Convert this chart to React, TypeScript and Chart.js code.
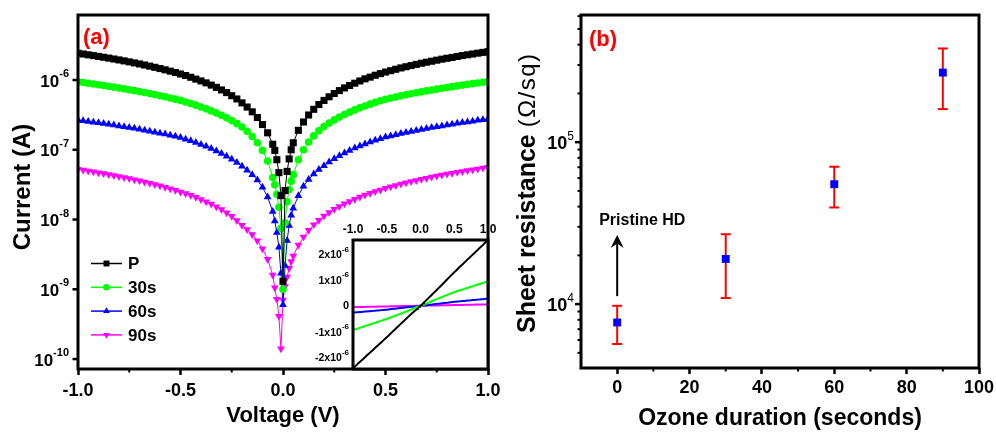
import React, { useEffect, useRef } from "react";
import { Chart, registerables } from "chart.js";

Chart.register(...registerables);

const FONT = "'Liberation Sans', Arial, Helvetica, sans-serif";
Chart.defaults.font.family = FONT;
Chart.defaults.color = "#000";

// ---------------- Panel (a) data: I-V curves (signed current, A) ----------------
const VOLTAGE = [
  -1, -0.975, -0.95, -0.925, -0.9, -0.875, -0.85, -0.825, -0.8, -0.775,
  -0.75, -0.725, -0.7, -0.675, -0.65, -0.625, -0.6, -0.575, -0.55, -0.525,
  -0.5, -0.475, -0.45, -0.425, -0.4, -0.375, -0.35, -0.325, -0.3, -0.275,
  -0.25, -0.225, -0.2, -0.175, -0.15, -0.125, -0.1, -0.075, -0.05,
  -0.04, -0.03, -0.02, -0.01, 0, 0.01, 0.02, 0.03, 0.04,
  0.05, 0.075, 0.1, 0.125, 0.15, 0.175, 0.2, 0.225, 0.25, 0.275,
  0.3, 0.325, 0.35, 0.375, 0.4, 0.425, 0.45, 0.475, 0.5, 0.525,
  0.55, 0.575, 0.6, 0.625, 0.65, 0.675, 0.7, 0.725, 0.75, 0.775,
  0.8, 0.825, 0.85, 0.875, 0.9, 0.925, 0.95, 0.975, 1,
];

const I_P = [
  -2.42e-6, -2.36e-6, -2.3e-6, -2.24e-6, -2.18e-6, -2.12e-6, -2.06e-6, -2.0e-6, -1.94e-6, -1.88e-6,
  -1.82e-6, -1.76e-6, -1.7e-6, -1.64e-6, -1.58e-6, -1.52e-6, -1.46e-6, -1.4e-6, -1.34e-6, -1.28e-6,
  -1.22e-6, -1.16e-6, -1.095e-6, -1.03e-6, -9.7e-7, -9.1e-7, -8.45e-7, -7.85e-7, -7.2e-7, -6.6e-7,
  -5.95e-7, -5.35e-7, -4.7e-7, -4.1e-7, -3.5e-7, -2.9e-7, -2.3e-7, -1.75e-7, -1.2e-7,
  -9.8e-8, -7.2e-8, -4.7e-8, -2.2e-8, -1.3e-9, 2.6e-8, 4.9e-8, 7.4e-8, 1.0e-7,
  1.26e-7, 1.9e-7, 2.5e-7, 3.15e-7, 3.8e-7, 4.45e-7, 5.1e-7, 5.75e-7, 6.4e-7, 7.05e-7,
  7.7e-7, 8.35e-7, 9.0e-7, 9.7e-7, 1.04e-6, 1.1e-6, 1.17e-6, 1.235e-6, 1.3e-6, 1.36e-6,
  1.425e-6, 1.49e-6, 1.55e-6, 1.61e-6, 1.675e-6, 1.74e-6, 1.8e-6, 1.86e-6, 1.925e-6, 1.99e-6,
  2.05e-6, 2.11e-6, 2.175e-6, 2.24e-6, 2.3e-6, 2.36e-6, 2.425e-6, 2.49e-6, 2.55e-6,
];

const I_30S = [
  -9.4e-7, -9.19e-7, -8.97e-7, -8.76e-7, -8.54e-7, -8.33e-7, -8.11e-7, -7.9e-7, -7.68e-7, -7.47e-7,
  -7.25e-7, -7.04e-7, -6.82e-7, -6.61e-7, -6.39e-7, -6.18e-7, -5.96e-7, -5.75e-7, -5.53e-7, -5.32e-7,
  -5.1e-7, -4.85e-7, -4.6e-7, -4.36e-7, -4.11e-7, -3.86e-7, -3.61e-7, -3.36e-7, -3.12e-7, -2.87e-7,
  -2.62e-7, -2.37e-7, -2.12e-7, -1.84e-7, -1.55e-7, -1.26e-7, -9.8e-8, -6.9e-8, -4.0e-8,
  -3.15e-8, -2.3e-8, -1.5e-8, -7.5e-9, -1.0e-9, 9.0e-9, 1.8e-8, 2.7e-8, 3.55e-8,
  4.4e-8, 7.2e-8, 1.0e-7, 1.29e-7, 1.58e-7, 1.87e-7, 2.15e-7, 2.41e-7, 2.68e-7, 2.94e-7,
  3.2e-7, 3.46e-7, 3.73e-7, 3.99e-7, 4.25e-7, 4.51e-7, 4.78e-7, 5.04e-7, 5.3e-7, 5.51e-7,
  5.72e-7, 5.93e-7, 6.14e-7, 6.35e-7, 6.56e-7, 6.77e-7, 6.98e-7, 7.19e-7, 7.4e-7, 7.61e-7,
  7.82e-7, 8.03e-7, 8.24e-7, 8.45e-7, 8.66e-7, 8.87e-7, 9.08e-7, 9.29e-7, 9.5e-7,
];

const I_60S = [
  -2.67e-7, -2.61e-7, -2.55e-7, -2.49e-7, -2.44e-7, -2.38e-7, -2.32e-7, -2.26e-7, -2.2e-7, -2.14e-7,
  -2.09e-7, -2.03e-7, -1.97e-7, -1.91e-7, -1.85e-7, -1.79e-7, -1.73e-7, -1.68e-7, -1.62e-7, -1.56e-7,
  -1.5e-7, -1.42e-7, -1.35e-7, -1.27e-7, -1.19e-7, -1.12e-7, -1.04e-7, -9.63e-8, -8.87e-8, -8.1e-8,
  -7.33e-8, -6.57e-8, -5.8e-8, -5.1e-8, -4.4e-8, -3.7e-8, -2.9e-8, -2.1e-8, -1.3e-8,
  -9.5e-9, -6.5e-9, -4.0e-9, -1.7e-9, -6.0e-10, 2.2e-9, 5.0e-9, 8.2e-9, 1.15e-8,
  1.45e-8, 2.2e-8, 3.0e-8, 3.75e-8, 4.5e-8, 5.2e-8, 5.9e-8, 6.68e-8, 7.45e-8, 8.23e-8,
  9.0e-8, 9.78e-8, 1.06e-7, 1.13e-7, 1.21e-7, 1.29e-7, 1.37e-7, 1.44e-7, 1.52e-7, 1.58e-7,
  1.64e-7, 1.71e-7, 1.77e-7, 1.83e-7, 1.89e-7, 1.95e-7, 2.02e-7, 2.08e-7, 2.14e-7, 2.2e-7,
  2.26e-7, 2.33e-7, 2.39e-7, 2.45e-7, 2.51e-7, 2.57e-7, 2.64e-7, 2.7e-7, 2.76e-7,
];

const I_90S = [
  -5.25e-8, -5.11e-8, -4.97e-8, -4.84e-8, -4.7e-8, -4.56e-8, -4.42e-8, -4.29e-8, -4.15e-8, -4.01e-8,
  -3.87e-8, -3.73e-8, -3.6e-8, -3.46e-8, -3.32e-8, -3.18e-8, -3.05e-8, -2.91e-8, -2.77e-8, -2.63e-8,
  -2.49e-8, -2.36e-8, -2.22e-8, -2.08e-8, -1.94e-8, -1.8e-8, -1.67e-8, -1.53e-8, -1.39e-8, -1.25e-8,
  -1.11e-8, -9.7e-9, -8.3e-9, -7.2e-9, -6.1e-9, -4.95e-9, -3.8e-9, -2.7e-9, -1.6e-9,
  -1.05e-9, -7.2e-10, -4.1e-10, -1.4e-10, 7.0e-10, 1.1e-9, 1.5e-9, 2.0e-9, 2.5e-9,
  3.0e-9, 4.3e-9, 5.6e-9, 7.0e-9, 8.4e-9, 9.8e-9, 1.12e-8, 1.26e-8, 1.4e-8, 1.54e-8,
  1.68e-8, 1.82e-8, 1.96e-8, 2.1e-8, 2.24e-8, 2.38e-8, 2.52e-8, 2.66e-8, 2.8e-8, 2.94e-8,
  3.08e-8, 3.22e-8, 3.36e-8, 3.5e-8, 3.64e-8, 3.78e-8, 3.92e-8, 4.06e-8, 4.2e-8, 4.34e-8,
  4.48e-8, 4.62e-8, 4.76e-8, 4.9e-8, 5.04e-8, 5.18e-8, 5.32e-8, 5.46e-8, 5.6e-8,
];

const SERIES_NAMES = ["P", "30s", "60s", "90s"];
const XA_TICKS = [-1, -0.5, 0, 0.5, 1];
const XA_MINOR = [-0.75, -0.25, 0.25, 0.75];
const YA_EXPONENTS = [-10, -9, -8, -7, -6];
const YA_MIN = 7.2e-11;
const YA_MAX = 8.55e-6;
const INSET_X_TICKS = [-1, -0.5, 0, 0.5, 1];
const INSET_Y_TICKS = [2e-6, 1e-6, 0, -1e-6, -2e-6];
const INSET_Y_EXP = -6;
const INSET_Y_MIN = -2.45e-6;
const INSET_Y_MAX = 2.55e-6;

// ---------------- Panel (b) data: sheet resistance ----------------
const OZONE_S = [0, 30, 60, 90];
const R_SHEET = [7.7e3, 1.9e4, 5.5e4, 2.69e5];
const R_ERR_HI = [9.76e3, 2.7e4, 7.05e4, 3.79e5];
const R_ERR_LO = [5.67e3, 1.09e4, 3.95e4, 1.6e5];
const XB_TICKS = [0, 20, 40, 60, 80, 100];
const XB_MINOR = [10, 30, 50, 70, 90];
const YB_EXPONENTS = [4, 5];
const YB_MIN = 4030;
const YB_MAX = 6.1e5;
const ARROW_X = 0;
const ARROW_FROM = 1.12e4;
const ARROW_TO = 2.67e4;
const ANNOT_TEXT = "Pristine HD";

// ---------------- styles ----------------
const STYLE_A = [
  { color: "#000000", pointStyle: "rect", radius: 5.0, rotation: 0 },
  { color: "#00ff00", pointStyle: "circle", radius: 3.8, rotation: 0 },
  { color: "#0000ff", pointStyle: "triangle", radius: 4.5, rotation: 0 },
  { color: "#ff00ff", pointStyle: "triangle", radius: 4.5, rotation: 180 },
];
const LEGEND_RADIUS = [4.2, 3.3, 3.9, 3.9];
const SERIES_A = [I_P, I_30S, I_60S, I_90S];

function seg(ctx: any, x1: number, y1: number, x2: number, y2: number) {
  ctx.beginPath();
  ctx.moveTo(x1, y1);
  ctx.lineTo(x2, y2);
  ctx.stroke();
}

function supLabel(ctx: any, xRight: number, y: number, base: string, sup: string,
  baseFont: string, supFont: string, baseDy: number, supDy: number) {
  ctx.textAlign = "right";
  ctx.textBaseline = "alphabetic";
  ctx.font = supFont;
  const w = ctx.measureText(sup).width;
  ctx.fillText(sup, xRight, y + supDy);
  ctx.font = baseFont;
  ctx.fillText(base, xRight - w, y + baseDy);
}

function drawMarker(ctx: any, style: string, x: number, y: number, r: number, rotDeg: number, color: string) {
  ctx.save();
  ctx.fillStyle = color;
  ctx.beginPath();
  if (style === "rect") {
    const s = Math.SQRT1_2 * r;
    ctx.rect(x - s, y - s, 2 * s, 2 * s);
  } else if (style === "circle") {
    ctx.arc(x, y, r, 0, Math.PI * 2);
  } else {
    let a = (rotDeg * Math.PI) / 180;
    ctx.moveTo(x + Math.sin(a) * r, y - Math.cos(a) * r);
    a += (2 * Math.PI) / 3;
    ctx.lineTo(x + Math.sin(a) * r, y - Math.cos(a) * r);
    a += (2 * Math.PI) / 3;
    ctx.lineTo(x + Math.sin(a) * r, y - Math.cos(a) * r);
    ctx.closePath();
  }
  ctx.fill();
  ctx.restore();
}

const decorA = {
  id: "decorA",
  afterDraw(chart: any) {
    const { ctx, chartArea: a } = chart;
    const x = chart.scales.x;
    const y = chart.scales.y;
    ctx.save();
    ctx.strokeStyle = "#000";
    ctx.fillStyle = "#000";
    ctx.lineWidth = 3;
    ctx.strokeRect(a.left, a.top, a.right - a.left, a.bottom - a.top);
    ctx.lineWidth = 2;
    XA_MINOR.forEach((v) => {
      const px = x.getPixelForValue(v);
      seg(ctx, px, a.bottom, px, a.bottom + 3.5);
    });
    ctx.lineWidth = 2.5;
    YA_EXPONENTS.forEach((e) => {
      const py = y.getPixelForValue(Math.pow(10, e));
      seg(ctx, a.left - 5.5, py, a.left, py);
      supLabel(ctx, a.left - 9, py, "10", String(e), `bold 17px ${FONT}`, `bold 11px ${FONT}`, 6.5, -3);
    });
    // y title
    ctx.save();
    ctx.translate(23, 187);
    ctx.rotate(-Math.PI / 2);
    ctx.textAlign = "center";
    ctx.textBaseline = "middle";
    ctx.font = `bold 24px ${FONT}`;
    ctx.fillText("Current (A)", 0, 0);
    ctx.restore();
    // legend
    chart.data.datasets.forEach((ds: any, i: number) => {
      const cy = a.top + 248.5 + i * 23.8;
      ctx.strokeStyle = ds.borderColor;
      ctx.lineWidth = 1.5;
      seg(ctx, 91, cy, 122, cy);
      drawMarker(ctx, ds.pointStyle, 106.5, cy, LEGEND_RADIUS[i], ds.pointRotation || 0, ds.borderColor);
      ctx.fillStyle = "#000";
      ctx.font = `bold 17px ${FONT}`;
      ctx.textAlign = "left";
      ctx.textBaseline = "middle";
      ctx.fillText(ds.label, 128, cy + 1);
    });
    ctx.fillStyle = "#ff0000";
    ctx.font = `bold 22px ${FONT}`;
    ctx.textAlign = "left";
    ctx.textBaseline = "middle";
    ctx.fillText("(a)", a.left + 5, a.top + 23);
    ctx.restore();
  },
};

const decorInset = {
  id: "decorInset",
  beforeDatasetsDraw(chart: any) {
    const { ctx, chartArea: a } = chart;
    ctx.save();
    ctx.fillStyle = "#fff";
    ctx.fillRect(a.left, a.top, a.right - a.left, a.bottom - a.top);
    ctx.restore();
  },
  afterDraw(chart: any) {
    const { ctx, chartArea: a } = chart;
    const x = chart.scales.x;
    const y = chart.scales.y;
    ctx.save();
    ctx.strokeStyle = "#000";
    ctx.fillStyle = "#000";
    ctx.lineWidth = 3;
    ctx.strokeRect(a.left, a.top, a.right - a.left, a.bottom - a.top);
    ctx.font = `bold 12px ${FONT}`;
    ctx.textAlign = "center";
    ctx.textBaseline = "middle";
    INSET_X_TICKS.forEach((v) => {
      ctx.fillText(v.toFixed(1), x.getPixelForValue(v), a.top - 10);
    });
    INSET_Y_TICKS.forEach((v) => {
      const py = y.getPixelForValue(v);
      if (v === 0) {
        ctx.font = `bold 11px ${FONT}`;
        ctx.textAlign = "right";
        ctx.textBaseline = "middle";
        ctx.fillText("0", a.left - 4, py);
      } else {
        const m = Math.round(v / Math.pow(10, INSET_Y_EXP));
        supLabel(ctx, a.left - 4, py, `${m}x10`, String(INSET_Y_EXP), `bold 10.5px ${FONT}`, `bold 8px ${FONT}`, 4, -2.5);
      }
    });
    ctx.restore();
  },
};

const decorB = {
  id: "decorB",
  beforeDatasetsDraw(chart: any) {
    const { ctx } = chart;
    const x = chart.scales.x;
    const y = chart.scales.y;
    ctx.save();
    ctx.strokeStyle = "#ff0000";
    ctx.lineWidth = 2;
    OZONE_S.forEach((v, i) => {
      const px = x.getPixelForValue(v);
      const yh = y.getPixelForValue(R_ERR_HI[i]);
      const yl = y.getPixelForValue(R_ERR_LO[i]);
      seg(ctx, px, yh, px, yl);
      seg(ctx, px - 5, yh, px + 5, yh);
      seg(ctx, px - 5, yl, px + 5, yl);
    });
    ctx.restore();
  },
  afterDraw(chart: any) {
    const { ctx, chartArea: a } = chart;
    const x = chart.scales.x;
    const y = chart.scales.y;
    ctx.save();
    ctx.strokeStyle = "#000";
    ctx.fillStyle = "#000";
    ctx.lineWidth = 3;
    ctx.strokeRect(a.left, a.top, a.right - a.left, a.bottom - a.top);
    ctx.lineWidth = 2;
    XB_MINOR.forEach((v) => {
      const px = x.getPixelForValue(v);
      seg(ctx, px, a.bottom, px, a.bottom + 3.5);
    });
    // log ticks
    for (let e = 3; e <= 5; e++) {
      for (let m = 1; m <= 9; m++) {
        const v = m * Math.pow(10, e);
        if (v < YB_MIN || v > YB_MAX) continue;
        const py = y.getPixelForValue(v);
        ctx.lineWidth = m === 1 ? 2.5 : 2;
        seg(ctx, a.left - (m === 1 ? 6 : 3.5), py, a.left, py);
      }
    }
    YB_EXPONENTS.forEach((e) => {
      const py = y.getPixelForValue(Math.pow(10, e));
      supLabel(ctx, a.left - 7, py, "10", String(e), `bold 18px ${FONT}`, `12px ${FONT}`, 6.5, -2.5);
    });
    // y title
    ctx.save();
    ctx.translate(28, 333);
    ctx.rotate(-Math.PI / 2);
    ctx.textAlign = "left";
    ctx.textBaseline = "middle";
    ctx.font = `bold 25px ${FONT}`;
    const t1 = "Sheet resistance ";
    ctx.fillText(t1, 0, 0);
    const w1 = ctx.measureText(t1).width;
    ctx.font = `24px ${FONT}`;
    (ctx as any).letterSpacing = "1.5px";
    ctx.fillText("(\u03A9/sq)", w1, 0);
    (ctx as any).letterSpacing = "0px";
    ctx.restore();
    // arrow annotation
    const ax = x.getPixelForValue(ARROW_X);
    const y1 = y.getPixelForValue(ARROW_FROM);
    const y2 = y.getPixelForValue(ARROW_TO);
    ctx.lineWidth = 2;
    seg(ctx, ax, y1, ax, y2 + 8);
    ctx.beginPath();
    ctx.moveTo(ax, y2);
    ctx.lineTo(ax + 6.5, y2 + 13);
    ctx.lineTo(ax, y2 + 8.5);
    ctx.lineTo(ax - 6.5, y2 + 13);
    ctx.closePath();
    ctx.fill();
    ctx.font = `bold 16px ${FONT}`;
    ctx.textAlign = "left";
    ctx.textBaseline = "middle";
    ctx.fillText(ANNOT_TEXT, ax - 18, y2 - 14.5);
    ctx.fillStyle = "#ff0000";
    ctx.font = `bold 22px ${FONT}`;
    ctx.fillText("(b)", a.left + 8, a.top + 25);
    ctx.restore();
  },
};

function configA(): any {
  return {
    type: "scatter",
    data: {
      datasets: SERIES_A.map((arr, i) => ({
        label: SERIES_NAMES[i],
        data: VOLTAGE.map((v, k) => ({ x: v, y: Math.abs(arr[k]) })),
        showLine: true,
        borderColor: STYLE_A[i].color,
        backgroundColor: STYLE_A[i].color,
        borderWidth: 1,
        pointStyle: STYLE_A[i].pointStyle,
        pointRadius: STYLE_A[i].radius,
        pointRotation: STYLE_A[i].rotation,
        pointBorderWidth: 0,
        pointBackgroundColor: STYLE_A[i].color,
        pointBorderColor: STYLE_A[i].color,
        order: i,
      })),
    },
    options: {
      responsive: false,
      animation: false,
      devicePixelRatio: 1,
      events: [],
      layout: { padding: { left: 0, right: 12, top: 15, bottom: 0 } },
      plugins: { legend: { display: false }, tooltip: { enabled: false } },
      scales: {
        x: {
          type: "linear",
          position: "bottom",
          min: -1,
          max: 1,
          afterBuildTicks: (s: any) => {
            s.ticks = XA_TICKS.map((v) => ({ value: v }));
          },
          afterFit: (s: any) => {
            s.height = 63;
            s.paddingLeft = 0;
            s.paddingRight = 0;
          },
          ticks: {
            font: { size: 18, weight: "bold" },
            color: "#000",
            padding: 5,
            maxRotation: 0,
            autoSkip: false,
            callback: (v: any) => Number(v).toFixed(1),
          },
          grid: { display: true, drawOnChartArea: false, drawTicks: true, tickLength: 6, tickWidth: 2.5, tickColor: "#000", color: "#000" },
          border: { display: false },
          title: { display: true, text: "Voltage (V)", font: { size: 22, weight: "bold" }, color: "#000", padding: { top: 0, bottom: 3 } },
        },
        y: {
          type: "logarithmic",
          min: YA_MIN,
          max: YA_MAX,
          afterFit: (s: any) => {
            s.width = 78;
            s.paddingTop = 0;
            s.paddingBottom = 0;
          },
          ticks: { display: false },
          grid: { display: false },
          border: { display: false },
          title: { display: false },
        },
      },
    },
    plugins: [decorA],
  };
}

function configInset(): any {
  return {
    type: "scatter",
    data: {
      datasets: SERIES_A.map((arr, i) => ({
        label: SERIES_NAMES[i],
        data: VOLTAGE.map((v, k) => ({ x: v, y: arr[k] })),
        showLine: true,
        borderColor: STYLE_A[i].color,
        borderWidth: 2,
        pointRadius: 0,
        order: i,
      })),
    },
    options: {
      responsive: false,
      animation: false,
      devicePixelRatio: 1,
      events: [],
      layout: { padding: { left: 53, right: 12, top: 25, bottom: 16 } },
      plugins: { legend: { display: false }, tooltip: { enabled: false } },
      scales: {
        x: { type: "linear", display: false, min: -1, max: 1 },
        y: { type: "linear", display: false, min: INSET_Y_MIN, max: INSET_Y_MAX },
      },
    },
    plugins: [decorInset],
  };
}

function configB(): any {
  return {
    type: "scatter",
    data: {
      datasets: [
        {
          label: "Sheet resistance",
          data: OZONE_S.map((v, i) => ({ x: v, y: R_SHEET[i] })),
          pointStyle: "rect",
          pointRadius: 5.6,
          pointBorderWidth: 0,
          pointBackgroundColor: "#0000ff",
          backgroundColor: "#0000ff",
          showLine: false,
        },
      ],
    },
    options: {
      responsive: false,
      animation: false,
      devicePixelRatio: 1,
      events: [],
      layout: { padding: { left: 0, right: 17, top: 15, bottom: 0 } },
      plugins: { legend: { display: false }, tooltip: { enabled: false } },
      scales: {
        x: {
          type: "linear",
          position: "bottom",
          min: -10,
          max: 100,
          afterBuildTicks: (s: any) => {
            s.ticks = XB_TICKS.map((v) => ({ value: v }));
          },
          afterFit: (s: any) => {
            s.height = 64;
            s.paddingLeft = 0;
            s.paddingRight = 0;
          },
          ticks: {
            font: { size: 18, weight: "bold" },
            color: "#000",
            padding: 3.5,
            maxRotation: 0,
            autoSkip: false,
            callback: (v: any) => String(v),
          },
          grid: { display: true, drawOnChartArea: false, drawTicks: true, tickLength: 6, tickWidth: 2.5, tickColor: "#000", color: "#000" },
          border: { display: false },
          title: { display: true, text: "Ozone duration (seconds)", font: { size: 23, weight: "bold", lineHeight: 1 }, color: "#000", padding: { top: 0, bottom: 1.5 } },
        },
        y: {
          type: "logarithmic",
          min: YB_MIN,
          max: YB_MAX,
          afterFit: (s: any) => {
            s.width = 81;
            s.paddingTop = 0;
            s.paddingBottom = 0;
          },
          ticks: { display: false },
          grid: { display: false },
          border: { display: false },
          title: { display: false },
        },
      },
    },
    plugins: [decorB],
  };
}

export default function App() {
  const refA = useRef<HTMLCanvasElement>(null);
  const refI = useRef<HTMLCanvasElement>(null);
  const refB = useRef<HTMLCanvasElement>(null);

  useEffect(() => {
    const charts: any[] = [];
    if (refA.current) charts.push(new Chart(refA.current, configA()));
    if (refI.current) charts.push(new Chart(refI.current, configInset()));
    if (refB.current) charts.push(new Chart(refB.current, configB()));
    return () => charts.forEach((c) => c.destroy());
  }, []);

  return (
    <div style={{ position: "fixed", left: 0, top: 0, width: 996, height: 432, background: "#fff", overflow: "hidden" }}>
      <canvas ref={refA} width={500} height={432} style={{ position: "absolute", left: 0, top: 0, width: 500, height: 432 }} />
      <canvas ref={refI} width={200} height={170} style={{ position: "absolute", left: 300, top: 215, width: 200, height: 170 }} />
      <canvas ref={refB} width={496} height={432} style={{ position: "absolute", left: 500, top: 0, width: 496, height: 432 }} />
    </div>
  );
}
